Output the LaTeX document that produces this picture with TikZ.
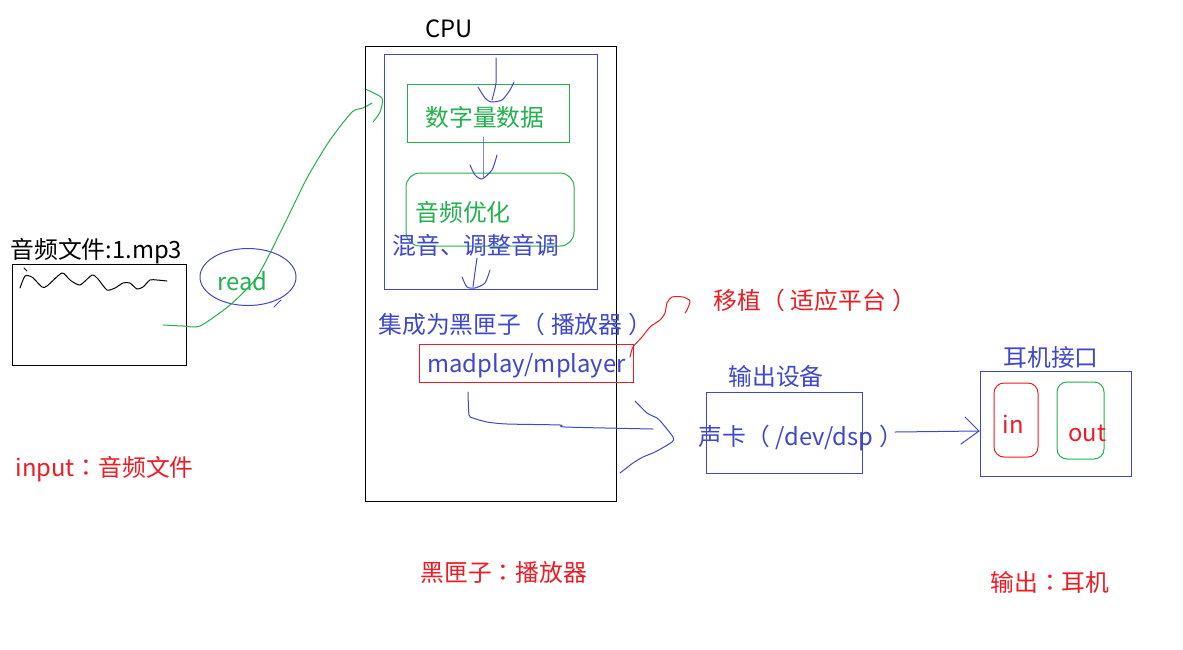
\documentclass[tikz,border=0pt]{standalone}
\usepackage{fontspec}
\setmainfont{Noto Sans CJK SC}
\newfontfamily\tcfont{Noto Sans CJK TC}
\newcommand\lpar{{\tcfont （}\kern0.25em}
\newcommand\rpar{\kern0.25em{\tcfont ）}}
\newcommand\fcolon{{\tcfont ：}}
\usetikzlibrary{shapes.geometric}
\definecolor{pgreen}{RGB}{34,177,76}
\definecolor{pblue}{RGB}{63,72,204}
\definecolor{pred}{RGB}{237,28,36}
\begin{document}
\begin{tikzpicture}[x=1pt,y=-1pt,line width=1pt,
  txt/.style={font=\fontsize{23.8}{27}\selectfont,inner sep=0pt,anchor=west},
  boxk/.style={draw=#1,inner sep=0pt,line width=1pt},
  hand/.style={draw=#1,line width=1pt,line join=round,line cap=round},
  freehand/.style={smooth,tension=0.4}]
\useasboundingbox[fill=white] (0,0) rectangle (1183,649);

% ---------- file ----------
\node[txt] (ftitle) at (10,251) {音频文件:1.mp3};
\node[boxk=black,minimum width=174pt,minimum height=101pt] (file) at (99,314.5) {};
\draw[hand=black] plot[freehand] coordinates {(20,288) (25,276) (32,277) (42,287) (47,286) (62,273) (70,280) (80,285) (92,275) (98,279) (107,290) (115,288) (123,283) (130,283) (137,289) (143,287) (150,280) (157,280) (167,281)};
\draw[hand=black] (24,268) -- (27,271);
\node[txt,text=pred] (input) at (15,469) {input\fcolon 音频文件};

% ---------- read ----------
\node[ellipse,draw=pblue,minimum width=96pt,minimum height=57pt,inner sep=0pt] (readell) at (248,277) {};
\draw[hand=pblue] (281,300) -- (274,307);
\node[txt,text=pgreen] (read) at (217,281) {read};
\coordinate (gstart) at (163,325);
\coordinate (gtip) at (382,98);
\draw[hand=pgreen] plot[freehand] coordinates {(gstart) (183,326) (200,326) (230,305) (257,277) (283,227) (307,178) (330,140) (352,112) (363,108) (372,103)};
\draw[hand=pgreen] plot[freehand] coordinates {(365,89) (gtip) (380,112) (373,122)};

% ---------- CPU ----------
\node[txt] (cpul) at (425,29) {CPU};
\node[boxk=black,minimum width=251pt,minimum height=455pt] (cpu) at (490.5,273.5) {};
\node[boxk=pblue,minimum width=213pt,minimum height=235pt] (inner) at (490.5,171.5) {};
\node[boxk=pgreen,minimum width=162pt,minimum height=58pt] (digit) at (488,113) {};
\node[txt,text=pgreen] (digitt) at (425,117) {数字量数据};
\node[boxk=pgreen,rounded corners=14pt,minimum width=168pt,minimum height=73pt] (opt) at (490,209.5) {};
\node[txt,text=pgreen] (optt) at (415,212) {音频优化};
\node[txt,text=pblue] (mix) at (392,245) {混音、调整音调};

\draw[hand=pblue] plot[freehand] coordinates {(496,58) (496,83) (492,100)};
\draw[hand=pblue] plot[freehand] coordinates {(478,87) (485,98) (491,102) (502,100) (510,90) (514,82)};
\draw[hand=pblue] plot[freehand] coordinates {(483,137) (483,158) (483,177)};
\draw[hand=pblue] plot[freehand] coordinates {(470,165) (475,175) (482,179) (492,170) (497,155)};
\draw[hand=pblue] plot[freehand] coordinates {(477,258) (475,272) (473,287)};
\draw[hand=pblue] plot[freehand] coordinates {(462,277) (467,287) (475,288) (485,283) (490,270)};

\node[txt,text=pblue] (blackbox) at (378,324) {集成为黑匣子\lpar 播放器\rpar};
\node[boxk=pred,minimum width=214pt,minimum height=38pt] (mad) at (526,363) {};
\node[txt,text=pblue] (madt) at (427,366) {madplay/mplayer};
\node[txt,text=pred] (bbnote) at (420,572) {黑匣子\fcolon 播放器};

% ---------- porting ----------
\draw[hand=pred] plot[freehand] coordinates {(630,357) (633,347) (642,337) (650,327) (660,320) (665,313) (667,303) (672,297) (683,297) (690,301) (687,310) (685,313)};
\node[txt,text=pred] (port) at (713,300) {移植\lpar 适应平台\rpar};

% ---------- sound card ----------
\draw[hand=pblue] plot[freehand] coordinates {(468,392) (469,415) (473,418) (487,422) (507,424) (560,425) (565,427) (653,429)};
\draw[hand=pblue] plot[freehand] coordinates {(635,401) (647,413) (657,418) (662,423) (673,437) (672,442) (655,452) (643,457) (633,463) (620,473)};
\node[txt,text=pblue] (outdev) at (728,376) {输出设备};
\node[boxk=pblue,minimum width=156pt,minimum height=81pt] (sc) at (784,432.5) {};
\node[txt,text=pblue] (sct) at (698,438) {声卡\lpar /dev/dsp\rpar};

% ---------- earphone ----------
\coordinate (escstart) at (895,432);
\coordinate (esctip) at (979,431);
\draw[hand=pblue] (escstart) -- (esctip);
\draw[hand=pblue] (965,417) -- (esctip) -- (961,444);
\node[boxk=pblue,minimum width=151pt,minimum height=105pt] (ear) at (1055.5,423.5) {};
\node[txt,text=pblue] (eart) at (1003,357) {耳机接口};
\node[boxk=pred,rounded corners=10pt,minimum width=44pt,minimum height=74pt] (inb) at (1016,420) {};
\node[txt,text=pred] (int) at (1002,424) {in};
\node[boxk=pgreen,rounded corners=10pt,minimum width=47pt,minimum height=77pt] (outb) at (1080.5,420.5) {};
\node[txt,text=pred] (outt) at (1068,433) {out};
\node[txt,text=pred] (outnote) at (990,582) {输出\fcolon 耳机};
\end{tikzpicture}
\end{document}
